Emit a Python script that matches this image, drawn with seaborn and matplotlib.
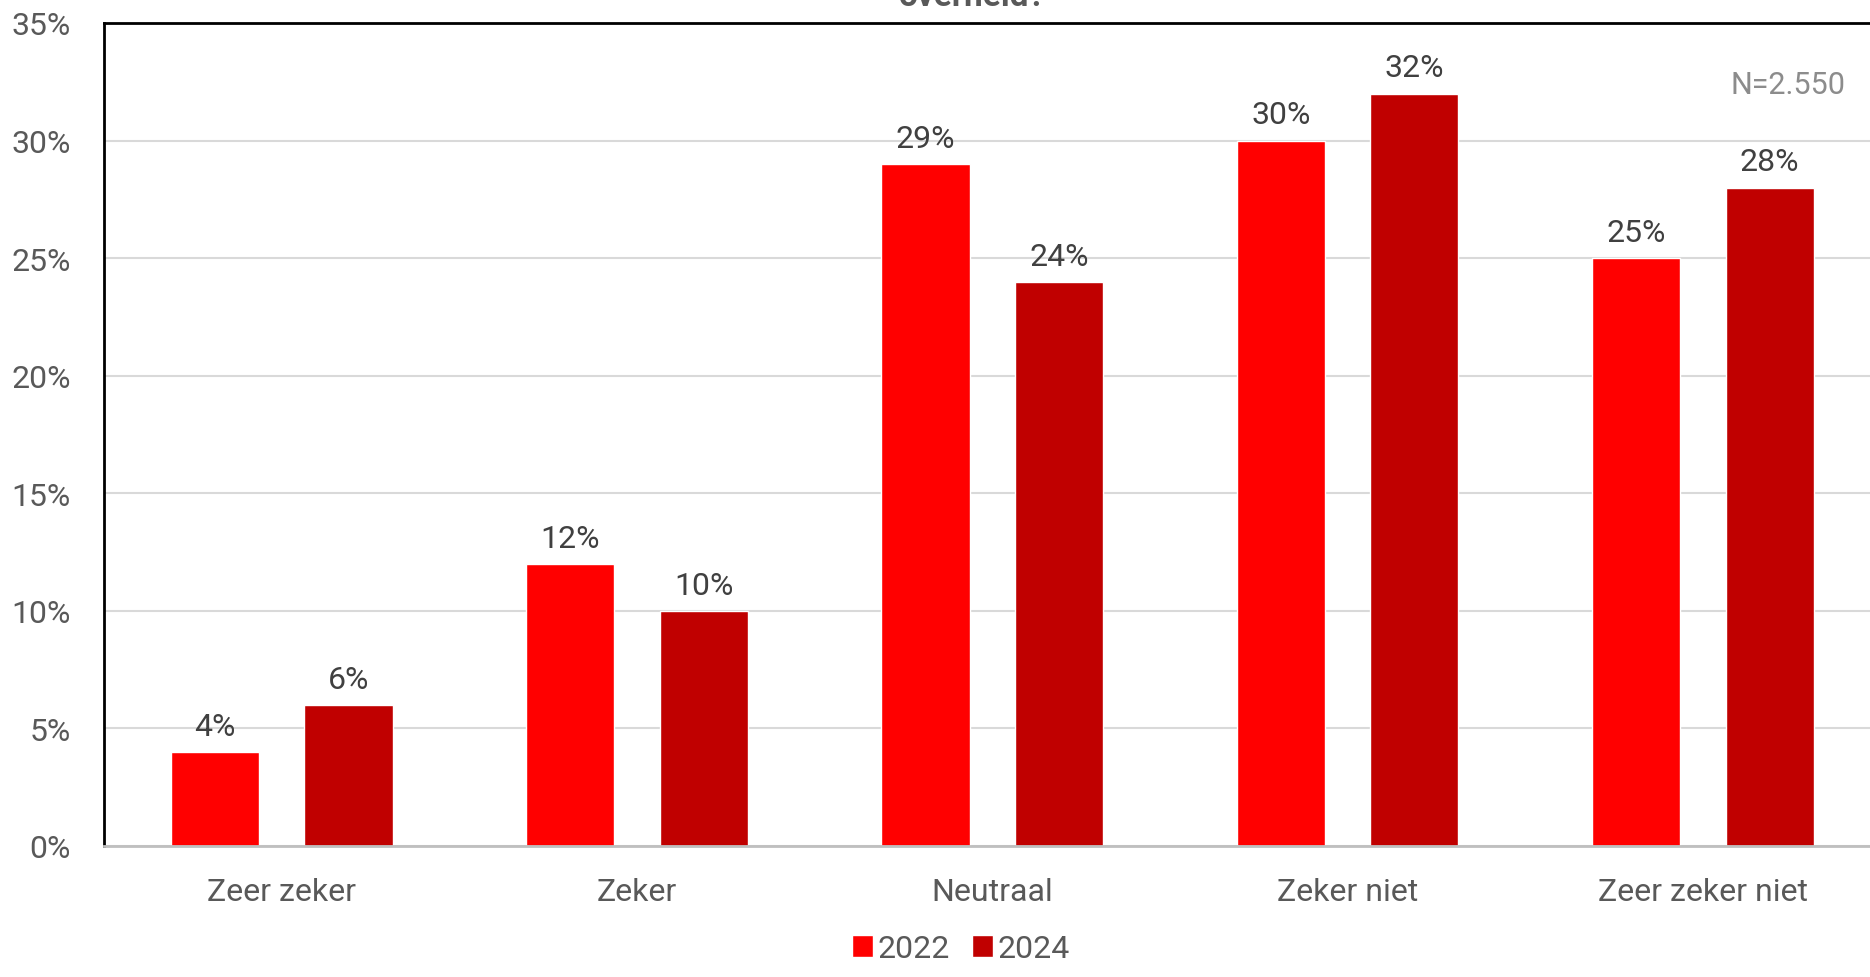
import numpy as np
import pandas as pd
import seaborn as sns
import matplotlib.pyplot as plt
from matplotlib.patches import Patch

# data
categories = ['Zeer zeker', 'Zeker', 'Neutraal', 'Zeker niet', 'Zeer zeker niet']
years = ['2022', '2024']
vals_2022 = [4, 12, 29, 30, 25]
vals_2024 = [6, 10, 24, 32, 28]
yticks = [0, 5, 10, 15, 20, 25, 30, 35]
colors = {'2022': '#FF0000', '2024': '#C00000'}

df = pd.DataFrame({
    'Antwoord': categories * 2,
    'Jaar': ['2022'] * len(categories) + ['2024'] * len(categories),
    'Pct': vals_2022 + vals_2024,
})

sns.set_theme(style='white')
plt.rcParams['font.family'] = ['Roboto', 'DejaVu Sans']

fig = plt.figure(figsize=(18.7, 9.78), dpi=100)
ax = fig.add_axes([0.0556, 0.134, 0.950, 0.8415])

sns.barplot(data=df, x='Antwoord', y='Pct', hue='Jaar', palette=colors,
            width=0.752, gap=0.34, ax=ax, legend=False, saturation=1)

for c in ax.containers:
    ax.bar_label(c, labels=[f'{v:.0f}%' for v in c.datavalues],
                 padding=8, fontsize=23, color='#404040')

ax.set_ylim(0, 35)
ax.set_yticks(yticks)
ax.set_yticklabels([f'{t}%' for t in yticks])
ax.set_xlim(-0.5, 4.5)
ax.set_xlabel('')
ax.set_ylabel('')
ax.yaxis.grid(True, color='#D9D9D9', linewidth=1.5)
ax.set_axisbelow(True)

ax.tick_params(axis='y', length=0, pad=24, labelsize=23, labelcolor='#595959')
ax.tick_params(axis='x', which='major', length=0, pad=22, labelsize=23,
               labelcolor='#595959')
ax.set_xticks(np.arange(-0.5, 5, 1), minor=True)
ax.tick_params(axis='x', which='minor', length=8, width=1.5, color='#BFBFBF',
               direction='out')

for s in ['left', 'top']:
    ax.spines[s].set_color('black')
    ax.spines[s].set_linewidth(2)
ax.spines['bottom'].set_color('#BFBFBF')
ax.spines['bottom'].set_linewidth(2)
ax.spines['right'].set_visible(False)

ax.text(0.987, 0.913, 'N=2.550', transform=fig.transFigure, ha='right',
        va='center', fontsize=22, color='#8C8C8C')

# title is cut off at the top of the picture
fig.text(0.52, 0.994, 'overheid?', ha='center', va='baseline',
         fontsize=24, fontweight='bold', color='#595959')

handles = [Patch(facecolor=colors[y], label=y) for y in years]
fig.legend(handles=handles, loc='center', bbox_to_anchor=(0.514, 0.029),
           ncol=2, frameon=False, fontsize=23, handlelength=0.65,
           handleheight=0.65, handletextpad=0.15, columnspacing=0.7,
           labelcolor='#595959')

fig.savefig('out.png', dpi=100)
